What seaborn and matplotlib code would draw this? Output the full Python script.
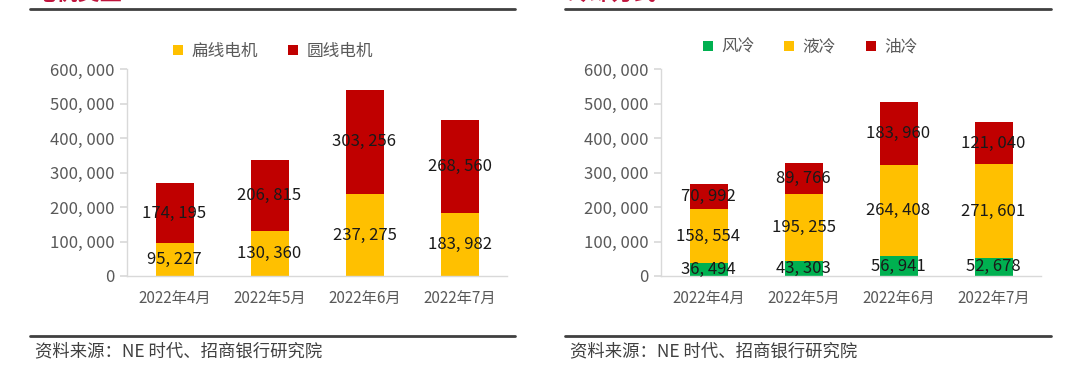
import matplotlib
matplotlib.use("Agg")
import matplotlib.pyplot as plt
import seaborn as sns
from matplotlib.lines import Line2D

# 数据
months = ["2022年4月", "2022年5月", "2022年6月", "2022年7月"]
flat_wire = [95227, 130360, 237275, 183982]      # 扁线电机
round_wire = [174195, 206815, 303256, 268560]    # 圆线电机
air_cool = [36494, 43303, 56941, 52678]          # 风冷
liquid_cool = [158554, 195255, 264408, 271601]   # 液冷
oil_cool = [70992, 89766, 183960, 121040]        # 油冷
y_ticks = [0, 100000, 200000, 300000, 400000, 500000, 600000]

YELLOW = "#FFC000"
RED = "#C00000"
GREEN = "#00B050"
GRID = "#D9D9D9"
TXT = "#595959"

sns.set_theme(style="white")
plt.rcParams["font.family"] = ["Noto Sans CJK SC", "DejaVu Sans"]

fig = plt.figure(figsize=(10.8, 3.87), dpi=100)
ax1 = fig.add_axes([127 / 1080, 1 - 276 / 387, 380 / 1080, 207 / 387])
ax2 = fig.add_axes([661 / 1080, 1 - 276 / 387, 380 / 1080, 207 / 387])


def fmt(v):
    return f"{v:,}".replace(",", ", ")


def stacked(ax, series, colors, names, leg_x, leg_y):
    bottom = [0] * len(months)
    for vals, col, name in zip(series, colors, names):
        sns.barplot(x=months, y=vals, bottom=bottom, color=col, width=0.4,
                    saturation=1, label=name, ax=ax, linewidth=0)
        ax.bar_label(ax.containers[-1], labels=[fmt(v) for v in vals],
                     label_type="center", fontsize=12, color="#1a1a1a")
        bottom = [b + v for b, v in zip(bottom, vals)]
    ax.set_ylim(0, 600000)
    ax.set_xlim(-0.5, 3.5)
    ax.set_yticks(y_ticks)
    ax.set_yticklabels([fmt(t) for t in y_ticks])
    ax.tick_params(axis="y", length=5, color=GRID, labelsize=12,
                   labelcolor=TXT, pad=4, left=True)
    ax.tick_params(axis="x", length=0, labelsize=11, labelcolor=TXT, pad=10)
    for s in ["top", "right"]:
        ax.spines[s].set_visible(False)
    for s in ["left", "bottom"]:
        ax.spines[s].set_color(GRID)
        ax.spines[s].set_linewidth(1)
    ax.set_xlabel("")
    ax.set_ylabel("")
    leg = ax.legend(loc="center", bbox_to_anchor=(leg_x, leg_y),
                    ncol=len(names), frameon=False, fontsize=12,
                    handlelength=0.6, handleheight=0.6, handletextpad=0.5,
                    columnspacing=1.8)
    for t in leg.get_texts():
        t.set_color(TXT)


stacked(ax1, [flat_wire, round_wire], [YELLOW, RED], ["扁线电机", "圆线电机"],
        0.385, 1.085)
stacked(ax2, [air_cool, liquid_cool, oil_cool], [GREEN, YELLOW, RED],
        ["风冷", "液冷", "油冷"], 0.392, 1.105)

# 标题（被裁切）、分隔线与资料来源
for x0, x1, title in [(30, 515, "电机类型"), (565, 1051, "冷却方式")]:
    fig.add_artist(Line2D([x0 / 1080, x1 / 1080], [1 - 9 / 387] * 2,
                          color="#404040", linewidth=2))
    fig.add_artist(Line2D([x0 / 1080, x1 / 1080], [1 - 336 / 387] * 2,
                          color="#404040", linewidth=2))
    fig.text((x0 + 3) / 1080, 1 - 5 / 387, title, color="#C0143C",
             fontsize=16, fontweight="bold", va="bottom", ha="left")
    fig.text((x0 + 5) / 1080, 1 - 351 / 387, "资料来源：NE 时代、招商银行研究院",
             color="#404040", fontsize=12.5, va="center", ha="left")

fig.savefig("out.png", dpi=100)
